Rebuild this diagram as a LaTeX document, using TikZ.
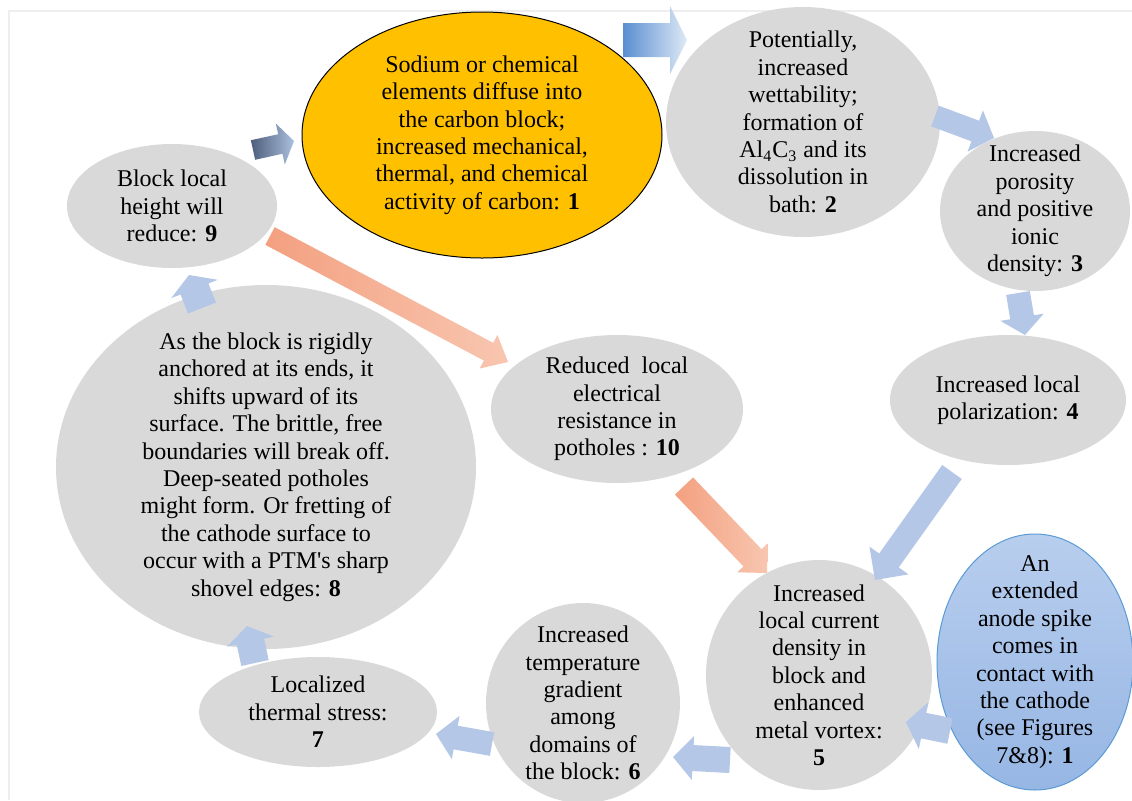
\documentclass[tikz,border=0pt]{standalone}
\usepackage{fontspec}
\setmainfont{Liberation Serif}
\usepackage{xcolor}
\usepackage{tikz}
\usetikzlibrary{shapes.geometric, calc}
\definecolor{CycGrey}{RGB}{217, 217, 217}
\definecolor{CycGold}{RGB}{255, 192, 0}
\definecolor{CycArrow}{RGB}{180, 199, 231}
\definecolor{CycSpikeTop}{RGB}{184, 206, 238}
\definecolor{CycSpikeBot}{RGB}{150, 182, 228}
\definecolor{CycSpikeLine}{RGB}{91, 155, 213}
\definecolor{CycSalmonDark}{RGB}{243, 160, 128}
\definecolor{CycSalmonLight}{RGB}{248, 198, 176}
\definecolor{CycBlueDark}{RGB}{90, 142, 208}
\definecolor{CycBlueLight}{RGB}{222, 233, 246}
\definecolor{CycSlate}{RGB}{78, 94, 124}
\definecolor{CycSlateLight}{RGB}{170, 192, 222}
\definecolor{CycFrame}{RGB}{238, 238, 238}

\tikzset{
  bubble/.style={ellipse, fill=CycGrey, inner sep=-20pt, align=center,
    font=\fontsize{12}{13.7}\selectfont},
  flatarrow/.style={fill=CycArrow}
}

\newcommand{\blockarrow}[6]{%
  \coordinate (hb) at ($(#3)!#6!(#2)$);
  \path[#1] ($(#2)!#4!90:(#3)$) -- ($(hb)!#4!90:(#3)$) -- ($(hb)!#5!90:(#3)$)
    -- (#3) -- ($(hb)!#5!-90:(#3)$) -- ($(hb)!#4!-90:(#3)$)
    -- ($(#2)!#4!-90:(#3)$) -- cycle;}

\begin{document}
\begin{tikzpicture}[x=0.5pt, y=-0.5pt]
  \useasboundingbox (0,0) rectangle (1132,800);
  \draw[CycFrame, line width=1pt] (9,800) -- (9,11) -- (1132,11);

  \node[bubble, fill=CycGold, draw=black, line width=0.5pt,
    minimum width=180pt, minimum height=123pt] (carbon) at (482,135)
    {Sodium or chemical\\ elements diffuse into\\ the carbon block;\\
     increased mechanical,\\ thermal, and chemical\\ activity of carbon: \textbf{1}};
  \node[bubble, minimum width=137pt, minimum height=115pt] (wett) at (803,122)
    {Potentially,\\ increased\\ wettability;\\ formation of\\
     Al\textsubscript{4}C\textsubscript{3} and its\\ dissolution in\\ bath: \textbf{2}};
  \node[bubble, minimum width=95pt, minimum height=80pt] (poro) at (1035,211)
    {Increased\\ porosity\\ and positive\\ ionic\\ density: \textbf{3}};
  \node[bubble, minimum width=118pt, minimum height=65pt] (polar) at (1008,400)
    {Increased local\\ polarization: \textbf{4}};
  \node[bubble, minimum width=113pt, minimum height=115pt] (current) at (819,675)
    {Increased\\ local current\\ density in\\ block and\\ enhanced\\ metal vortex:\\ \textbf{5}};
  \node[bubble, top color=CycSpikeTop, bottom color=CycSpikeBot, draw=CycSpikeLine,
    line width=0.5pt, minimum width=98pt, minimum height=128pt] (spike) at (1035,662)
    {An\\ extended\\ anode spike\\ comes in\\ contact with\\ the cathode\\ (see Figures\\ 7\&8): \textbf{1}};
  \node[bubble, minimum width=97pt, minimum height=100pt] (gradient) at (583,703)
    {Increased\\ temperature\\ gradient\\ among\\ domains of\\ the block: \textbf{6}};
  \node[bubble, minimum width=119pt, minimum height=55pt] (stress) at (318,712)
    {Localized\\ thermal stress:\\ \textbf{7}};
  \node[bubble, minimum width=210pt, minimum height=182pt] (anchor) at (266,467)
    {As the block is rigidly\\ anchored at its ends, it\\ shifts upward of its\\
     surface. The brittle, free\\ boundaries will break off.\\ Deep-seated potholes\\
     might form. Or fretting of\\ the cathode surface to\\
     occur with a PTM{\addfontfeatures{Ligatures=TeXOff}'}s sharp\\
     shovel edges: \textbf{8}};
  \node[bubble, minimum width=105pt, minimum height=62pt] (height) at (172,206)
    {Block local\\ height will\\ reduce: \textbf{9}};
  \node[bubble, minimum width=126pt, minimum height=74pt] (resist) at (617,409)
    {Reduced\ \ local\\ electrical\\ resistance in\\ potholes : \textbf{10}};

  \coordinate (s1) at (623,40);   \coordinate (t1) at (687,40);
  \coordinate (s2) at (935,116);  \coordinate (t2) at (994,138);
  \coordinate (s3) at (1018,293); \coordinate (t3) at (1025,335);
  \coordinate (s4) at (952,472);  \coordinate (t4) at (875,580);
  \coordinate (s5) at (950,731);  \coordinate (t5) at (906,722);
  \coordinate (s6) at (730,760);  \coordinate (t6) at (673,757);
  \coordinate (s7) at (492,744);  \coordinate (t7) at (436,734);
  \coordinate (s8) at (255,663);  \coordinate (t8) at (247,626);
  \coordinate (s9) at (202,308);  \coordinate (t9) at (189,275);
  \coordinate (s10) at (253,150); \coordinate (t10) at (294,141);
  \coordinate (s11) at (270,236); \coordinate (t11) at (508,362);
  \coordinate (s12) at (684,486); \coordinate (t12) at (767,573);

  \blockarrow{shade, left color=CycBlueDark, right color=CycBlueLight}{s1}{t1}{8.5pt}{17pt}{8.5pt}
  \blockarrow{flatarrow}{s2}{t2}{5.5pt}{11pt}{10pt}
  \blockarrow{flatarrow}{s3}{t3}{6pt}{11pt}{9pt}
  \blockarrow{flatarrow}{s4}{t4}{6pt}{12pt}{12pt}
  \blockarrow{flatarrow}{s5}{t5}{6.5pt}{12pt}{9pt}
  \blockarrow{flatarrow}{s6}{t6}{6.5pt}{11pt}{10pt}
  \blockarrow{flatarrow}{s7}{t7}{6pt}{11pt}{10pt}
  \blockarrow{flatarrow}{s8}{t8}{7pt}{12pt}{8pt}
  \blockarrow{flatarrow}{s9}{t9}{7.5pt}{12.5pt}{7.5pt}
  \blockarrow{shade, left color=CycSlate, right color=CycSlateLight}{s10}{t10}{5pt}{10.5pt}{7pt}
  \blockarrow{shade, left color=CycSalmonDark, right color=CycSalmonLight}{s11}{t11}{5pt}{9.5pt}{11pt}
  \blockarrow{shade, left color=CycSalmonDark, right color=CycSalmonLight}{s12}{t12}{6.25pt}{10.5pt}{10.5pt}
\end{tikzpicture}
\end{document}
